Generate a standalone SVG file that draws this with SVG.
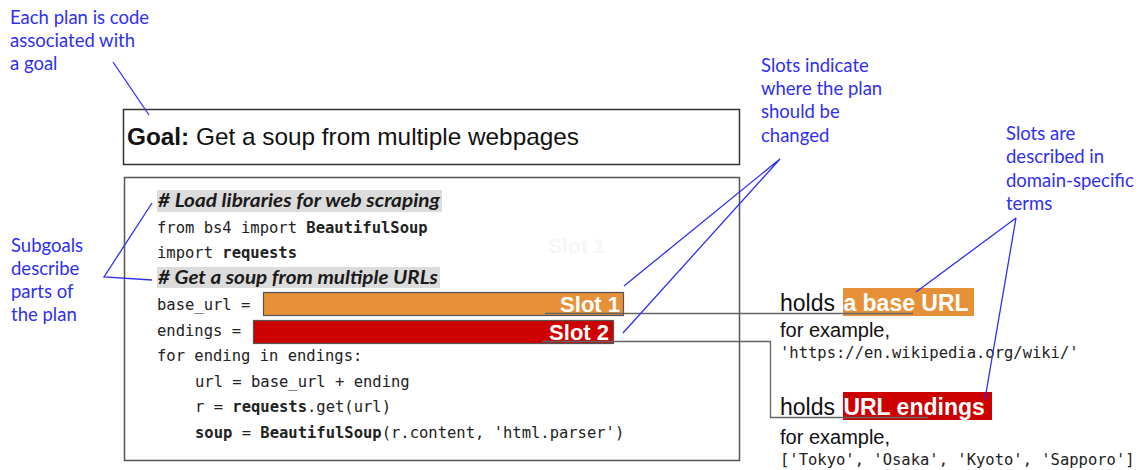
<svg xmlns="http://www.w3.org/2000/svg" width="1142" height="470" viewBox="0 0 1142 470">
  <style>
    .note { font-family: Lato, "Noto Sans", sans-serif; font-size: 18.5px; fill: #2f2ff5; }
    .code { font-family: "DejaVu Sans Mono", "Liberation Mono", monospace; font-size: 15.5px; fill: #222; }
    .kw { font-weight: bold; }
    .cmt { font-family: Lato, "Open Sans", sans-serif; font-size: 19.5px; font-weight: bold; font-style: italic; fill: #1a1a1a; }
    .hl { fill: #dcdcdc; }
    .sans { font-family: "Liberation Sans", Arial, sans-serif; fill: #111; }
    .slot { font-family: "Liberation Sans", Arial, sans-serif; font-weight: bold; font-size: 22px; fill: #fff; }
    .pointer { stroke: #2f2ff5; stroke-width: 1.3; fill: none; }
    .wire { stroke: #666; stroke-width: 1.3; fill: none; }
  </style>

  <!-- goal box -->
  <g id="goal">
    <rect x="123.5" y="109.5" width="616" height="55" fill="#fff" stroke="#333" stroke-width="1.5"/>
    <text x="127" y="145" class="sans" font-size="24" textLength="452" lengthAdjust="spacingAndGlyphs"><tspan font-weight="bold">Goal:</tspan> Get a soup from multiple webpages</text>
  </g>

  <!-- code box -->
  <g id="code">
    <rect x="124.5" y="177.5" width="615" height="283" fill="#fff" stroke="#555" stroke-width="1.5"/>
    <rect class="hl" x="157" y="190" width="285" height="22"/>
    <rect class="hl" x="157" y="267" width="283" height="21"/>
    <text class="cmt" x="158" y="207" textLength="282" lengthAdjust="spacingAndGlyphs"># Load libraries for web scraping</text>
    <text class="code" x="157" y="233">from bs4 import <tspan class="kw">BeautifulSoup</tspan></text>
    <text class="code" x="157" y="258">import <tspan class="kw">requests</tspan></text>
    <text class="cmt" x="158" y="284" textLength="280" lengthAdjust="spacingAndGlyphs"># Get a soup from multiple URLs</text>
    <text class="code" x="157" y="310">base_url =</text>
    <text class="code" x="157" y="336">endings =</text>
    <text class="code" x="157" y="361">for ending in endings:</text>
    <text class="code" x="195" y="387">url = base_url + ending</text>
    <text class="code" x="195" y="412">r = <tspan class="kw">requests</tspan>.get(url)</text>
    <text class="code" x="195" y="438"><tspan class="kw">soup</tspan> = <tspan class="kw">BeautifulSoup</tspan>(r.content, 'html.parser')</text>
    <text x="548" y="253" font-family="Liberation Sans, Arial, sans-serif" font-weight="bold" font-size="21" fill="#f6f6f6">Slot 1</text>
  </g>

  <!-- slots -->
  <g id="slot1">
    <rect x="263.5" y="292.5" width="360" height="23" fill="#e69138" stroke="#555" stroke-width="1.2"/>
    <text class="slot" x="620" y="312" text-anchor="end">Slot 1</text>
  </g>
  <g id="slot2">
    <rect x="253.5" y="320.5" width="360" height="23" fill="#cc0000" stroke="#555" stroke-width="1.2"/>
    <text class="slot" x="609" y="340" text-anchor="end">Slot 2</text>
  </g>

  <!-- slot descriptions -->
  <g id="desc1">
    <rect x="843" y="288" width="131" height="28" fill="#e69138"/>
    <text class="sans" x="780" y="311" font-size="23">holds <tspan font-weight="bold" fill="#fff" dx="2">a base URL</tspan></text>
    <text class="sans" x="780" y="337" font-size="20">for example,</text>
    <text class="code" x="780" y="358">'https://en.wikipedia.org/wiki/'</text>
  </g>
  <g id="desc2">
    <rect x="843" y="392" width="149" height="28" fill="#cc0000"/>
    <text class="sans" x="780" y="415" font-size="23">holds <tspan font-weight="bold" fill="#fff" dx="2">URL endings</tspan></text>
    <text class="sans" x="780" y="444" font-size="20">for example,</text>
    <text class="code" x="780" y="465">['Tokyo', 'Osaka', 'Kyoto', 'Sapporo']</text>
  </g>

  <!-- annotations -->
  <g id="note-plan">
    <text class="note" x="10" y="24">Each plan is code</text>
    <text class="note" x="10" y="47">associated with</text>
    <text class="note" x="10" y="70">a goal</text>
  </g>
  <g id="note-subgoals">
    <text class="note" x="11" y="252">Subgoals</text>
    <text class="note" x="11" y="275">describe</text>
    <text class="note" x="11" y="298">parts of</text>
    <text class="note" x="11" y="321">the plan</text>
  </g>
  <g id="note-slots">
    <text class="note" x="761" y="72">Slots indicate</text>
    <text class="note" x="761" y="95">where the plan</text>
    <text class="note" x="761" y="118">should be</text>
    <text class="note" x="761" y="142">changed</text>
  </g>
  <g id="note-terms">
    <text class="note" x="1006" y="140">Slots are</text>
    <text class="note" x="1006" y="163">described in</text>
    <text class="note" x="1006" y="187">domain-specific</text>
    <text class="note" x="1006" y="210">terms</text>
  </g>

  <!-- connectors -->
  <g id="connectors">
    <path class="wire" d="M545,313.5 H913"/>
    <path class="wire" d="M542,341.5 H770.5 V417.5 H928"/>
    <path class="pointer" d="M113,62 L149,115"/>
    <path class="pointer" d="M152,203 L104,277 L152,280"/>
    <path class="pointer" d="M780,159 L624,286 M780,159 L623,333"/>
    <path class="pointer" d="M1016,218 L916,292 M1016,218 L985,399"/>
  </g>
</svg>
